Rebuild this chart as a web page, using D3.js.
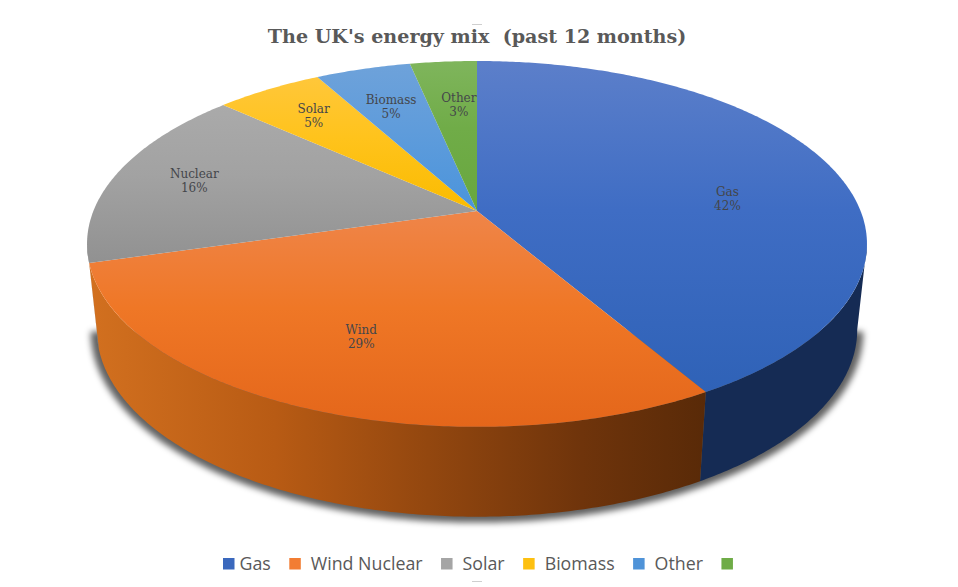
<!DOCTYPE html>
<html>
<head>
<meta charset="utf-8">
<script src="https://cdn.jsdelivr.net/npm/d3@7"></script>
<style>
  html, body { margin: 0; background: #fff; }
  svg { display: block; }
  text { white-space: pre; }
</style>
</head>
<body>
<svg id="chart" width="958" height="587"></svg>
<script>
// Data
const categories = ["Gas", "Wind", "Nuclear", "Solar", "Biomass", "Other"];
const shares = [41.6, 28.9, 16.2, 5.3, 4.7, 3.3];
const legendLabels = ["Gas", "Wind Nuclear", "Solar", "Biomass", "Other", ""];

// Colours: [top of slice, middle, bottom of slice]
const topColors = [
  ["#5c7fca", "#3f6dc4", "#2f62b7"],
  ["#ef8549", "#ef7726", "#e4661a"],
  ["#aaaaaa", "#a2a2a2", "#919191"],
  ["#ffc73a", "#ffc31c", "#fabb00"],
  ["#6ea2da", "#5f9cdb", "#4a94dc"],
  ["#7fb55c", "#70ac48", "#68a73e"]
];
const wallColors = ["#152b54", "url(#wallWind)", "#858585", "#b08400", "#35659a", "#487330"];
const legendColors = ["#3a68bd", "#f27d33", "#a5a5a5", "#fdc010", "#4f93d8", "#6fac47"];

// Label placing, as a share of the radius and a turn away from the slice middle
const labelRadius = [0.665, 0.685, 0.78, 0.76, 0.70, 0.67];
const labelTurn = [9, 1.2, 0, 0, -0.6, 1.4];

const svg = d3.select("#chart");
const defs = svg.append("defs");

// Tilted disc: a circle seen in perspective
const tilt = 0.18;
const topDisc = { x: 477, y: 211, rx: 383.6, ry: 177 };
const baseDisc = { x: 477, y: 296, rx: 374, ry: 181 };

function project(disc, angle, r) {
  const px = Math.sin(angle) * r;
  const py = -Math.cos(angle) * r;
  const w = 1 - tilt * py;
  return [disc.x + disc.rx * px / w, disc.y + disc.ry * py / w];
}

const line = d3.line();

function arcPoints(disc, a0, a1) {
  const n = Math.max(2, Math.ceil((a1 - a0) / 0.01));
  return d3.range(n + 1).map(i => project(disc, a0 + (a1 - a0) * i / n, 1));
}

const slices = d3.pie().sort(null).value(d => d)(shares);

// Gradients
topColors.forEach((c, i) => {
  const g = defs.append("linearGradient")
    .attr("id", "top" + i)
    .attr("x1", 0).attr("y1", 0).attr("x2", 0).attr("y2", 1);
  g.append("stop").attr("offset", 0).attr("stop-color", c[0]);
  g.append("stop").attr("offset", 0.45).attr("stop-color", c[1]);
  g.append("stop").attr("offset", 1).attr("stop-color", c[2]);
});

const wallWind = defs.append("linearGradient")
  .attr("id", "wallWind")
  .attr("gradientUnits", "userSpaceOnUse")
  .attr("x1", 90).attr("y1", 0).attr("x2", 705).attr("y2", 0);
[[0, "#d2701f"], [0.3, "#b85b14"], [0.55, "#93470f"], [0.8, "#6f340b"], [1, "#592a08"]].forEach(s => {
  wallWind.append("stop").attr("offset", s[0]).attr("stop-color", s[1]);
});

defs.append("filter")
  .attr("id", "soft")
  .attr("x", "-5%").attr("y", "-5%").attr("width", "110%").attr("height", "110%")
  .append("feGaussianBlur").attr("stdDeviation", 3);

// The side of the disc only shows between the two points where it turns away
const sideStart = Math.acos(-tilt);
const sideEnd = 2 * Math.PI - sideStart;

// Shadow under the side wall
const shadowDisc = { x: baseDisc.x, y: baseDisc.y + 1, rx: baseDisc.rx + 6, ry: baseDisc.ry + 4 };
svg.append("path")
  .attr("d", line(arcPoints(shadowDisc, sideStart, sideEnd)) + "Z")
  .attr("fill", "#000")
  .attr("fill-opacity", 0.62)
  .attr("filter", "url(#soft)");

// Side walls
svg.selectAll(".wall")
  .data(slices)
  .enter().append("path")
  .attr("class", "wall")
  .attr("fill", (d, i) => wallColors[i])
  .attr("d", d => {
    const a0 = Math.max(d.startAngle, sideStart);
    const a1 = Math.min(d.endAngle, sideEnd);
    if (a1 <= a0) return null;
    return line(arcPoints(topDisc, a0, a1).concat(arcPoints(baseDisc, a0, a1).reverse())) + "Z";
  });

// Top faces
svg.selectAll(".slice")
  .data(slices)
  .enter().append("path")
  .attr("class", "slice")
  .attr("fill", (d, i) => "url(#top" + i + ")")
  .attr("d", d => line([[topDisc.x, topDisc.y]].concat(arcPoints(topDisc, d.startAngle, d.endAngle))) + "Z");

// Slice labels
const labels = svg.selectAll(".label")
  .data(slices)
  .enter().append("text")
  .attr("class", "label")
  .attr("text-anchor", "middle")
  .attr("font-family", "'DejaVu Serif', serif")
  .attr("font-size", 12)
  .attr("fill", "#44464a")
  .attr("transform", (d, i) => {
    const mid = (d.startAngle + d.endAngle) / 2 + labelTurn[i] * Math.PI / 180;
    return "translate(" + project(topDisc, mid, labelRadius[i]) + ")";
  });
labels.append("tspan").attr("x", 0).attr("y", -3).text((d, i) => categories[i]);
labels.append("tspan").attr("x", 0).attr("y", 11).text(d => Math.round(d.value) + "%");

// Title
svg.append("text")
  .attr("x", 477)
  .attr("y", 43)
  .attr("text-anchor", "middle")
  .attr("font-family", "'DejaVu Serif', serif")
  .attr("font-weight", "bold")
  .attr("font-size", 19.1)
  .attr("fill", "#595959")
  .text("The UK's energy mix  (past 12 months)");

// Legend, laid out from the width of each label
const legend = svg.append("g");
let legendX = 223;
legendLabels.forEach((name, i) => {
  legend.append("rect")
    .attr("x", legendX).attr("y", 558)
    .attr("width", 11.5).attr("height", 11.5)
    .attr("fill", legendColors[i]);
  const label = legend.append("text")
    .attr("x", legendX + 11.5 + (i === 0 ? 5 : 10))
    .attr("y", 569.5)
    .attr("font-family", "'Open Sans', sans-serif")
    .attr("font-size", 17.8)
    .attr("fill", "#595959")
    .text(name);
  legendX += 11.5 + (i === 0 ? 5 : 10) + label.node().getComputedTextLength() + 18.5;
});

// Faint selection handles at the top and bottom of the frame
[24, 581].forEach(y => {
  svg.append("rect")
    .attr("x", 472).attr("y", y)
    .attr("width", 10).attr("height", 1)
    .attr("fill", "#cfcfcf");
});
</script>
</body>
</html>
